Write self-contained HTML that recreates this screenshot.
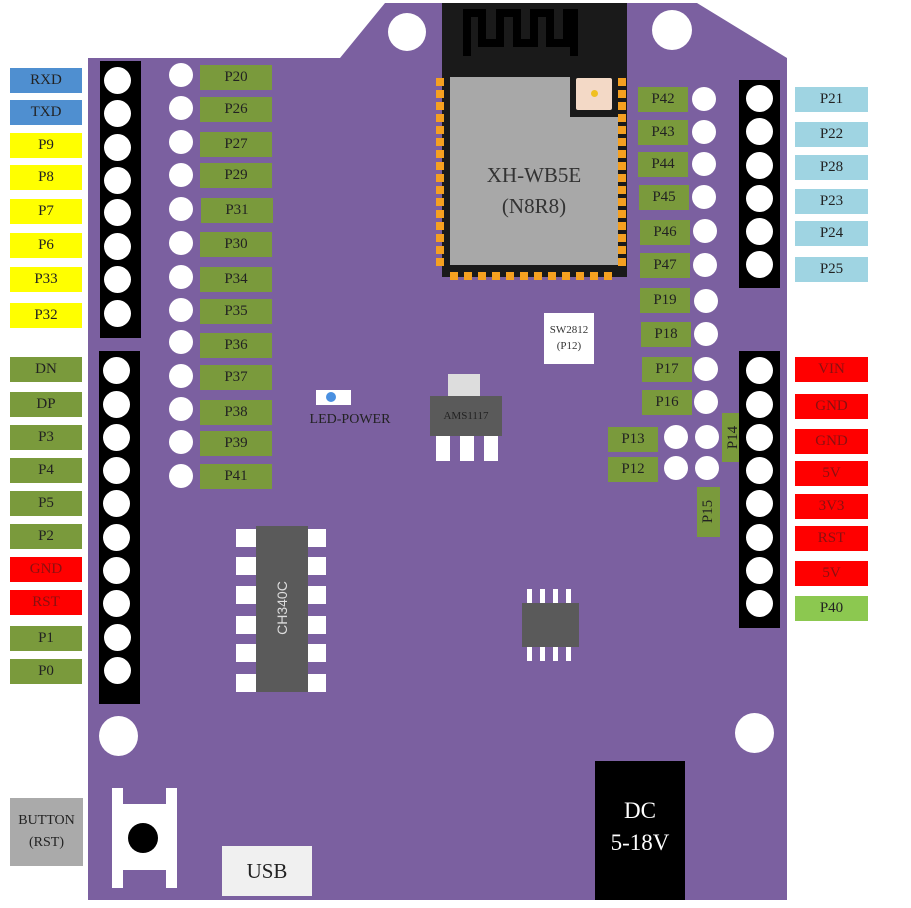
<!DOCTYPE html>
<html><head><meta charset="utf-8"><style>
body{margin:0;width:911px;height:908px;background:#fff;position:relative;overflow:hidden;font-family:"Liberation Serif",serif;}
div{position:absolute;box-sizing:border-box;}
.l{height:25px;text-align:center;line-height:25px;font-size:15px;color:#222;}
.g{background:#7a9a3c;} .y{background:#ffff00;} .b{background:#4f8fd0;} .c{background:#9fd4e2;} .r{background:#ff0000;color:#8a1010;} .lg{background:#8cc850;}
.p{width:27px;height:27px;border-radius:50%;background:#fff;}
.h{width:24px;height:24px;border-radius:50%;background:#fff;}
.k{background:#000;}
.w{background:#fff;}
</style></head><body>
<svg style="position:absolute;left:0;top:0" width="911" height="908"><polygon points="88,58 340,58 385,3 697,3 787,58 787,900 88,900" fill="#7b60a0"/></svg>
<!-- mount holes -->
<div class="w" style="left:388px;top:13px;width:38px;height:38px;border-radius:50%"></div>
<div class="w" style="left:652px;top:10px;width:40px;height:40px;border-radius:50%"></div>
<div class="w" style="left:99px;top:716px;width:39px;height:40px;border-radius:50%"></div>
<div class="w" style="left:735px;top:713px;width:39px;height:40px;border-radius:50%"></div>
<!-- left headers -->
<div class="k" style="left:100px;top:61px;width:41px;height:277px"></div>
<div class="k" style="left:99px;top:351px;width:41px;height:353px"></div>
<div class="p" style="left:104px;top:67px"></div><div class="p" style="left:104px;top:100px"></div><div class="p" style="left:104px;top:134px"></div><div class="p" style="left:104px;top:167px"></div><div class="p" style="left:104px;top:199px"></div><div class="p" style="left:104px;top:233px"></div><div class="p" style="left:104px;top:266px"></div><div class="p" style="left:104px;top:300px"></div>
<div class="p" style="left:103px;top:357px"></div><div class="p" style="left:103px;top:391px"></div><div class="p" style="left:103px;top:424px"></div><div class="p" style="left:103px;top:457px"></div><div class="p" style="left:103px;top:490px"></div><div class="p" style="left:103px;top:524px"></div><div class="p" style="left:103px;top:557px"></div><div class="p" style="left:103px;top:590px"></div><div class="p" style="left:104px;top:624px"></div><div class="p" style="left:104px;top:657px"></div>
<!-- left labels -->
<div class="l b" style="left:10px;top:68px;width:72px">RXD</div>
<div class="l b" style="left:10px;top:100px;width:72px">TXD</div>
<div class="l y" style="left:10px;top:133px;width:72px">P9</div>
<div class="l y" style="left:10px;top:165px;width:72px">P8</div>
<div class="l y" style="left:10px;top:199px;width:72px">P7</div>
<div class="l y" style="left:10px;top:233px;width:72px">P6</div>
<div class="l y" style="left:10px;top:267px;width:72px">P33</div>
<div class="l y" style="left:10px;top:303px;width:72px">P32</div>
<div class="l g" style="left:10px;top:357px;width:72px">DN</div>
<div class="l g" style="left:10px;top:392px;width:72px">DP</div>
<div class="l g" style="left:10px;top:425px;width:72px">P3</div>
<div class="l g" style="left:10px;top:458px;width:72px">P4</div>
<div class="l g" style="left:10px;top:491px;width:72px">P5</div>
<div class="l g" style="left:10px;top:524px;width:72px">P2</div>
<div class="l r" style="left:10px;top:557px;width:72px">GND</div>
<div class="l r" style="left:10px;top:590px;width:72px">RST</div>
<div class="l g" style="left:10px;top:626px;width:72px">P1</div>
<div class="l g" style="left:10px;top:659px;width:72px">P0</div>
<!-- inner left column -->
<div class="h" style="left:169px;top:63px"></div><div class="h" style="left:169px;top:96px"></div><div class="h" style="left:169px;top:130px"></div><div class="h" style="left:169px;top:163px"></div><div class="h" style="left:169px;top:197px"></div><div class="h" style="left:169px;top:231px"></div><div class="h" style="left:169px;top:265px"></div><div class="h" style="left:169px;top:298px"></div><div class="h" style="left:169px;top:330px"></div><div class="h" style="left:169px;top:364px"></div><div class="h" style="left:169px;top:397px"></div><div class="h" style="left:169px;top:430px"></div><div class="h" style="left:169px;top:464px"></div>
<div class="l g" style="left:200px;top:65px;width:72px">P20</div>
<div class="l g" style="left:200px;top:97px;width:72px">P26</div>
<div class="l g" style="left:200px;top:132px;width:72px">P27</div>
<div class="l g" style="left:200px;top:163px;width:72px">P29</div>
<div class="l g" style="left:201px;top:198px;width:72px">P31</div>
<div class="l g" style="left:200px;top:232px;width:72px">P30</div>
<div class="l g" style="left:200px;top:267px;width:72px">P34</div>
<div class="l g" style="left:200px;top:299px;width:72px">P35</div>
<div class="l g" style="left:200px;top:333px;width:72px">P36</div>
<div class="l g" style="left:200px;top:365px;width:72px">P37</div>
<div class="l g" style="left:200px;top:400px;width:72px">P38</div>
<div class="l g" style="left:200px;top:431px;width:72px">P39</div>
<div class="l g" style="left:200px;top:464px;width:72px">P41</div>
<!-- module -->
<div class="k" style="left:442px;top:3px;width:185px;height:274px;background:#1a1a1a"></div>
<svg style="position:absolute;left:462px;top:8px" width="120" height="50"><path d="M5 48 V5 H20 V35 H38 V5 H55 V35 H72 V5 H88 V35 H105 V5 H112 V48" fill="none" stroke="#000" stroke-width="8"/></svg>
<div style="left:450px;top:77px;width:168px;height:188px;background:#a8a8a8"></div>
<div style="left:570px;top:77px;width:48px;height:40px;background:#1a1a1a"></div>
<div style="left:576px;top:78px;width:36px;height:32px;background:#f3d9c6;border-radius:2px"></div>
<div style="left:591px;top:90px;width:7px;height:7px;border-radius:50%;background:#f0c020"></div>
<div style="left:450px;top:160px;width:168px;text-align:center;font-size:21px;color:#333;line-height:31px">XH-WB5E<br>(N8R8)</div>
<svg style="position:absolute;left:436px;top:76px" width="196" height="206">
<g fill="#f5a020">
<rect x="0" y="2" width="8" height="8"/><rect x="0" y="14" width="8" height="8"/><rect x="0" y="26" width="8" height="8"/><rect x="0" y="38" width="8" height="8"/><rect x="0" y="50" width="8" height="8"/><rect x="0" y="62" width="8" height="8"/><rect x="0" y="74" width="8" height="8"/><rect x="0" y="86" width="8" height="8"/><rect x="0" y="98" width="8" height="8"/><rect x="0" y="110" width="8" height="8"/><rect x="0" y="122" width="8" height="8"/><rect x="0" y="134" width="8" height="8"/><rect x="0" y="146" width="8" height="8"/><rect x="0" y="158" width="8" height="8"/><rect x="0" y="170" width="8" height="8"/><rect x="0" y="182" width="8" height="8"/>
<rect x="182" y="2" width="8" height="8"/><rect x="182" y="14" width="8" height="8"/><rect x="182" y="26" width="8" height="8"/><rect x="182" y="38" width="8" height="8"/><rect x="182" y="50" width="8" height="8"/><rect x="182" y="62" width="8" height="8"/><rect x="182" y="74" width="8" height="8"/><rect x="182" y="86" width="8" height="8"/><rect x="182" y="98" width="8" height="8"/><rect x="182" y="110" width="8" height="8"/><rect x="182" y="122" width="8" height="8"/><rect x="182" y="134" width="8" height="8"/><rect x="182" y="146" width="8" height="8"/><rect x="182" y="158" width="8" height="8"/><rect x="182" y="170" width="8" height="8"/><rect x="182" y="182" width="8" height="8"/>
<rect x="14" y="196" width="8" height="8"/><rect x="28" y="196" width="8" height="8"/><rect x="42" y="196" width="8" height="8"/><rect x="56" y="196" width="8" height="8"/><rect x="70" y="196" width="8" height="8"/><rect x="84" y="196" width="8" height="8"/><rect x="98" y="196" width="8" height="8"/><rect x="112" y="196" width="8" height="8"/><rect x="126" y="196" width="8" height="8"/><rect x="140" y="196" width="8" height="8"/><rect x="154" y="196" width="8" height="8"/><rect x="168" y="196" width="8" height="8"/>
</g></svg>
<!-- right inner column -->
<div class="l g" style="left:638px;top:87px;width:50px">P42</div>
<div class="l g" style="left:638px;top:120px;width:50px">P43</div>
<div class="l g" style="left:638px;top:152px;width:50px">P44</div>
<div class="l g" style="left:639px;top:185px;width:50px">P45</div>
<div class="l g" style="left:640px;top:220px;width:50px">P46</div>
<div class="l g" style="left:640px;top:253px;width:50px">P47</div>
<div class="l g" style="left:640px;top:288px;width:50px">P19</div>
<div class="l g" style="left:641px;top:322px;width:50px">P18</div>
<div class="l g" style="left:642px;top:357px;width:50px">P17</div>
<div class="l g" style="left:642px;top:390px;width:50px">P16</div>
<div class="h" style="left:692px;top:87px"></div><div class="h" style="left:692px;top:120px"></div><div class="h" style="left:692px;top:152px"></div><div class="h" style="left:692px;top:185px"></div><div class="h" style="left:693px;top:219px"></div><div class="h" style="left:693px;top:253px"></div><div class="h" style="left:694px;top:289px"></div><div class="h" style="left:694px;top:322px"></div><div class="h" style="left:694px;top:357px"></div><div class="h" style="left:694px;top:390px"></div>
<div class="l g" style="left:608px;top:427px;width:50px">P13</div>
<div class="l g" style="left:608px;top:457px;width:50px">P12</div>
<div class="h" style="left:664px;top:425px"></div><div class="h" style="left:695px;top:425px"></div><div class="h" style="left:664px;top:456px"></div><div class="h" style="left:695px;top:456px"></div>
<div class="g" style="left:722px;top:413px;width:23px;height:49px"></div>
<div style="left:709px;top:425px;width:49px;height:25px;line-height:25px;text-align:center;font-size:15px;transform:rotate(-90deg);color:#222">P14</div>
<div class="g" style="left:697px;top:487px;width:23px;height:50px"></div>
<div style="left:684px;top:499px;width:49px;height:25px;line-height:25px;text-align:center;font-size:15px;transform:rotate(-90deg);color:#222">P15</div>
<!-- right headers -->
<div class="k" style="left:739px;top:80px;width:41px;height:208px"></div>
<div class="k" style="left:739px;top:351px;width:41px;height:277px"></div>
<div class="p" style="left:746px;top:85px"></div><div class="p" style="left:746px;top:118px"></div><div class="p" style="left:746px;top:152px"></div><div class="p" style="left:746px;top:185px"></div><div class="p" style="left:746px;top:218px"></div><div class="p" style="left:746px;top:251px"></div>
<div class="p" style="left:746px;top:357px"></div><div class="p" style="left:746px;top:391px"></div><div class="p" style="left:746px;top:424px"></div><div class="p" style="left:746px;top:457px"></div><div class="p" style="left:746px;top:490px"></div><div class="p" style="left:746px;top:524px"></div><div class="p" style="left:746px;top:557px"></div><div class="p" style="left:746px;top:590px"></div>
<div class="l c" style="left:795px;top:87px;width:73px">P21</div>
<div class="l c" style="left:795px;top:122px;width:73px">P22</div>
<div class="l c" style="left:795px;top:155px;width:73px">P28</div>
<div class="l c" style="left:795px;top:189px;width:73px">P23</div>
<div class="l c" style="left:795px;top:221px;width:73px">P24</div>
<div class="l c" style="left:795px;top:257px;width:73px">P25</div>
<div class="l r" style="left:795px;top:357px;width:73px">VIN</div>
<div class="l r" style="left:795px;top:394px;width:73px">GND</div>
<div class="l r" style="left:795px;top:429px;width:73px">GND</div>
<div class="l r" style="left:795px;top:461px;width:73px">5V</div>
<div class="l r" style="left:795px;top:494px;width:73px">3V3</div>
<div class="l r" style="left:795px;top:526px;width:73px">RST</div>
<div class="l r" style="left:795px;top:561px;width:73px">5V</div>
<div class="l lg" style="left:795px;top:596px;width:73px">P40</div>
<!-- SW2812 -->
<div class="w" style="left:544px;top:313px;width:50px;height:51px;font-size:11px;text-align:center;line-height:16px;padding-top:9px;color:#333">SW2812<br>(P12)</div>
<!-- LED -->
<div class="w" style="left:316px;top:390px;width:35px;height:15px"></div>
<div style="left:326px;top:392px;width:10px;height:10px;border-radius:50%;background:#4a90e0"></div>
<div style="left:300px;top:412px;width:100px;font-size:14px;color:#222;text-align:center">LED-POWER</div>
<!-- AMS1117 -->
<div style="left:448px;top:374px;width:32px;height:22px;background:#ddd"></div>
<div style="left:430px;top:396px;width:72px;height:40px;background:#5a5a5a;color:#222;font-size:11px;text-align:center;line-height:40px">AMS1117</div>
<div class="w" style="left:436px;top:436px;width:14px;height:25px"></div><div class="w" style="left:460px;top:436px;width:14px;height:25px"></div><div class="w" style="left:484px;top:436px;width:14px;height:25px"></div>
<!-- CH340C -->
<div style="left:256px;top:526px;width:52px;height:166px;background:#5a5a5a"></div>
<div class="w" style="left:236px;top:529px;width:20px;height:18px"></div><div class="w" style="left:236px;top:557px;width:20px;height:18px"></div><div class="w" style="left:236px;top:586px;width:20px;height:18px"></div><div class="w" style="left:236px;top:616px;width:20px;height:18px"></div><div class="w" style="left:236px;top:644px;width:20px;height:18px"></div><div class="w" style="left:236px;top:674px;width:20px;height:18px"></div>
<div class="w" style="left:308px;top:529px;width:18px;height:18px"></div><div class="w" style="left:308px;top:557px;width:18px;height:18px"></div><div class="w" style="left:308px;top:586px;width:18px;height:18px"></div><div class="w" style="left:308px;top:616px;width:18px;height:18px"></div><div class="w" style="left:308px;top:644px;width:18px;height:18px"></div><div class="w" style="left:308px;top:674px;width:18px;height:18px"></div>
<div style="left:242px;top:598px;width:80px;height:20px;transform:rotate(-90deg);color:#ddd;font-family:'Liberation Sans',sans-serif;font-size:14px;text-align:center;line-height:20px">CH340C</div>
<!-- DIP8 -->
<div style="left:522px;top:603px;width:57px;height:44px;background:#5a5a5a"></div>
<div class="w" style="left:527px;top:589px;width:5px;height:14px"></div><div class="w" style="left:540px;top:589px;width:5px;height:14px"></div><div class="w" style="left:553px;top:589px;width:5px;height:14px"></div><div class="w" style="left:566px;top:589px;width:5px;height:14px"></div>
<div class="w" style="left:527px;top:647px;width:5px;height:14px"></div><div class="w" style="left:540px;top:647px;width:5px;height:14px"></div><div class="w" style="left:553px;top:647px;width:5px;height:14px"></div><div class="w" style="left:566px;top:647px;width:5px;height:14px"></div>
<!-- button -->
<div style="left:10px;top:798px;width:73px;height:68px;background:#aaa;font-size:14px;text-align:center;line-height:22px;padding-top:12px;color:#222">BUTTON<br>(RST)</div>
<div class="w" style="left:112px;top:788px;width:11px;height:100px"></div>
<div class="w" style="left:166px;top:788px;width:11px;height:100px"></div>
<div class="w" style="left:112px;top:804px;width:65px;height:66px"></div>
<div style="left:128px;top:823px;width:30px;height:30px;border-radius:50%;background:#000"></div>
<!-- USB -->
<div style="left:222px;top:846px;width:90px;height:50px;background:#f0f0f0;font-size:21px;text-align:center;line-height:50px;color:#222">USB</div>
<!-- DC -->
<div style="left:595px;top:761px;width:90px;height:139px;background:#000;color:#fff;font-size:23px;text-align:center;line-height:32px;padding-top:34px">DC<br>5-18V</div>
</body></html>
